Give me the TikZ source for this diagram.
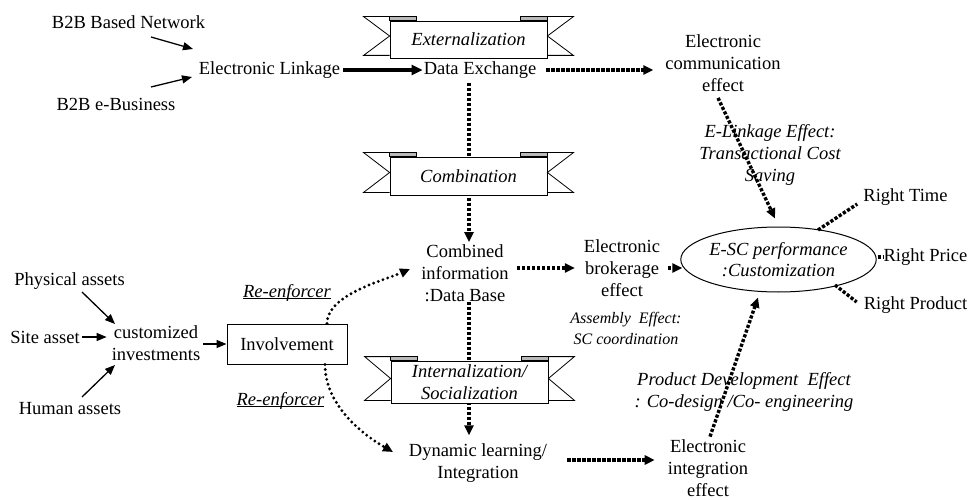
\documentclass[tikz,border=0pt]{standalone}
\usepackage{fontspec}
\setmainfont{Liberation Serif}
\usetikzlibrary{arrows.meta,calc,shapes.geometric}

% underlined label with the rule close to the baseline
\newcommand\ulabel[1]{\setbox0\hbox{#1}\rlap{\rule[-1.8pt]{\wd0}{0.9pt}}\box0}

% tails and top folds of a ribbon banner around a named box node
\newcommand\ribbonends[1]{%
  \filldraw[fold] ($(#1.north west)+(0,-4)$) rectangle ($(#1.north west)+(27,0)$);
  \filldraw[fold] ($(#1.north east)+(-27,-4)$) rectangle ($(#1.north east)$);
  \draw[ribline] ($(#1.north west)+(0,-4)$) -- ($(#1.north west)+(-26,-4)$)
    -- ($(#1.west)+(0,-3.5)$) -- ($(#1.south west)+(-26,-3)$) -- ($(#1.south west)+(0,-3)$);
  \draw[ribline] ($(#1.north east)+(0,-4)$) -- ($(#1.north east)+(26,-4)$)
    -- ($(#1.east)+(0,-3.5)$) -- ($(#1.south east)+(26,-3)$) -- ($(#1.south east)+(0,-3)$);
}

\tikzset{
  txt/.style={inner sep=0pt, align=center, font=\fontsize{18.5}{22.2}\selectfont},
  itxt/.style={inner sep=0pt, align=center, font=\fontsize{18.5}{22.2}\selectfont\itshape},
  stxt/.style={inner sep=0pt, align=center, font=\fontsize{16}{21}\selectfont\itshape},
  arr/.style={line width=1.3pt, -{Triangle[length=10pt,width=8pt]}},
  thickarr/.style={line width=3.5pt, -{Triangle[length=11pt,width=10pt]}},
  sq/.style={line width=3.4pt, dash pattern=on 3.2pt off 1.8pt},
  sqarr/.style={sq, -{Triangle[length=10pt,width=9pt]}},
  rnd/.style={line width=3.2pt, line cap=round, dash pattern=on 0pt off 5pt,
    -{Triangle[length=10pt,width=9pt]}},
  ribbon/.style={draw, line width=0.8pt, fill=white, inner sep=0pt, align=center,
    minimum width=157pt, minimum height=37pt,
    font=\fontsize{18.5}{22.2}\selectfont\itshape},
  ribline/.style={line width=0.8pt, line join=miter},
  fold/.style={fill=gray!55, draw=black, line width=0.6pt},
  ibox/.style={draw, line width=1pt, inner sep=0pt, minimum width=120pt,
    minimum height=40pt, font=\fontsize{18.5}{22.2}\selectfont},
  perfnode/.style={ellipse, draw, line width=1pt, inner sep=0pt, align=center,
    minimum width=169pt, minimum height=65pt,
    font=\fontsize{18.5}{21.5}\selectfont\itshape}
}

\begin{document}
\begin{tikzpicture}[x=1pt,y=-1pt]
\useasboundingbox (0,0) rectangle (969,500);

% text nodes
\node[txt] (b2bnet) at (128.5,22) {B2B Based Network};
\node[txt] (b2bebiz) at (116,104) {B2B e-Business};
\node[txt] (elink) at (269.5,70) {Electronic Linkage};
\node[txt] (dataex) at (480,70) {Data Exchange};
\node[txt] (comm) at (723,63) {Electronic\\communication\\effect};
\node[itxt] (elinkfx) at (770,155) {E-Linkage Effect:\\Transactional Cost\\Saving};
\node[txt] (combined) at (465,273) {Combined\\information\\:Data Base};
\node[txt] (broker) at (622,268) {Electronic\\brokerage\\effect};
\node[stxt] (assembly) at (626,328) {Assembly\ \ Effect:\\SC coordination};
\node[perfnode] (perf) at (778.5,259.5) {E-SC performance\\:Customization};
\node[txt] (rtime) at (905.5,197) {Right Time};
\node[txt] (rprice) at (925.5,257) {Right Price};
\node[txt] (rprod) at (915.5,305) {Right Product};
\node[txt] (dynamic) at (478,463) {Dynamic learning/\\Integration};
\node[txt] (integ) at (708,468) {Electronic\\integration\\effect};
\node[itxt] (proddev) at (744,392) {Product Development\ \ Effect\\: Co-design /Co- engineering};
\node[txt] (phys) at (69.5,281) {Physical assets};
\node[txt] (site) at (45,337) {Site asset};
\node[txt] (human) at (70,409) {Human assets};
\node[txt] (custom) at (156,343) {customized\\investments};
\node[ibox] (involve) at (287,344) {Involvement};
\node[itxt] (reup) at (287,293) {\ulabel{Re-enforcer}};
\node[itxt] (redown) at (280.5,401) {\ulabel{Re-enforcer}};

% solid arrows
\draw[arr] ($(b2bnet.center)+(22.5,15)$) -- ($(elink.center)+(-76.5,-21)$);
\draw[arr] ($(b2bebiz.center)+(35,-17)$) -- ($(elink.center)+(-77.5,7)$);
\draw[thickarr, shorten <=3pt, shorten >=1pt] (elink.east) -- (dataex.west);
\draw[arr] ($(phys.center)+(12.5,11)$) -- ($(custom.center)+(-41,-19)$);
\draw[arr, shorten <=2pt, shorten >=5pt] (site.east) -- (site.east -| custom.west);
\draw[arr] ($(human.center)+(12,-12)$) -- ($(custom.center)+(-41,22)$);
\draw[arr, shorten <=3pt] (custom.east |- involve.west) -- (involve.west);

% square-dotted flows
\draw[sqarr, shorten <=10pt, shorten >=12pt] (dataex.east) -- (dataex.east -| comm.west);
\draw[sqarr] ($(comm.south)+(-5,6)$) -- ($(perf.north)+(-3.5,-8)$);
\draw[sqarr] ($(dataex.south)+(-11,4)$) -- ($(combined.north)+(4,-2)$);
\draw[sqarr, shorten <=8pt, shorten >=9pt] (combined.east |- broker.west) -- (broker.west);
\draw[sqarr, shorten <=8pt, shorten >=-2pt] (broker.east) -- (broker.east -| perf.west);
\draw[sq] ($(perf.center)+(39.5,-29.5)$) -- ($(rtime.west)+(-6,7)$);
\draw[sq, shorten <=1pt] (perf.east |- rprice.west) -- (rprice.west);
\draw[sq] ($(perf.center)+(56.5,25.5)$) -- ($(rprod.west)+(-7,-3)$);
\draw[sqarr] ($(combined.south)+(4,0)$) -- ($(dynamic.north)+(-9,-8)$);
\draw[sqarr] ($(dynamic.east)+(20,-3)$) -- ($(integ.west)+(-13,-8)$);
\draw[sqarr] ($(integ.north)+(2,-2.5)$) -- ($(perf.south)+(-20.5,5)$);

% round-dotted reinforcing loops
\draw[rnd] ($(involve.north)+(40,0)$) .. controls +(0,-29) and +(-25,11) .. ($(combined.center)+(-55,-4)$);
\draw[rnd] ($(involve.south)+(38,0)$) .. controls +(0,36) and +(-38,-22) .. ($(dynamic.center)+(-85,-11)$);

% ribbon banners
\node[ribbon] (extern) at (468.5,39.5) {Externalization};
\ribbonends{extern}
\node[ribbon, minimum height=38pt] (combo) at (468.5,176) {Combination};
\ribbonends{combo}
\node[ribbon, minimum height=42pt] (intern) at (469.5,382) {Internalization/\\Socialization};
\ribbonends{intern}
\end{tikzpicture}
\end{document}
